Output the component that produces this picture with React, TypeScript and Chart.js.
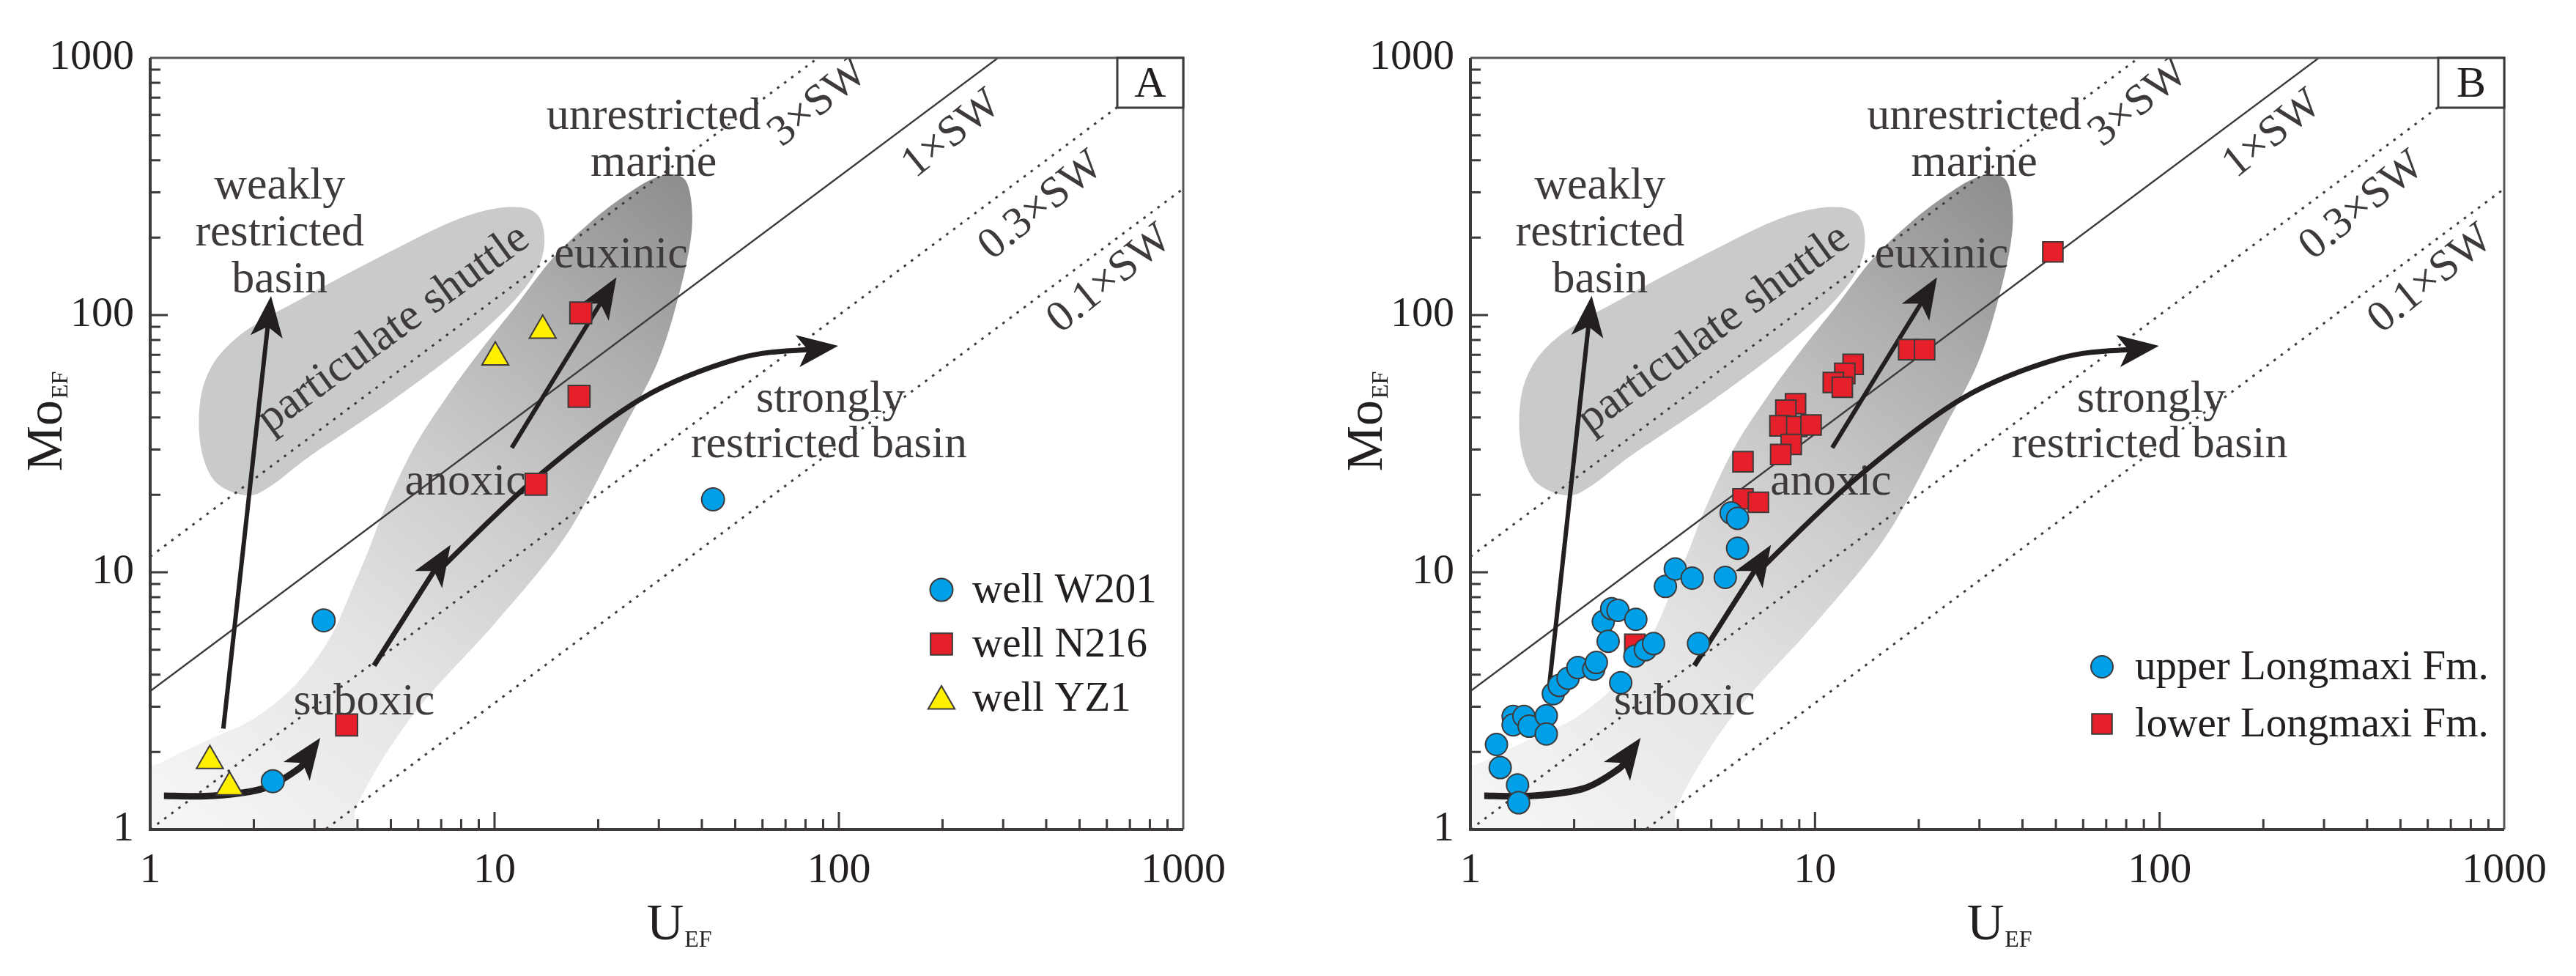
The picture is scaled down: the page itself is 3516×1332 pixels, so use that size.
import React, { useEffect, useRef } from 'react';
import { Chart, registerables } from 'chart.js';

Chart.register(...registerables);

const FONT = '"Liberation Serif", "Times New Roman", serif';
const INK = '#231f20';
const LINE = '#3e3a39';
const BLUE = '#00a0e9';
const RED = '#e5202a';
const YELLOW = '#fff000';

// ---- axes ----
const axisMin = 1;
const axisMax = 1000;
const tickValues = [1, 10, 100, 1000];
const tickLabels = ['1', '10', '100', '1000'];

// ---- panel A data (U_EF, Mo_EF) ----
const seriesNamesA = ['well W201', 'well N216', 'well YZ1'];
const w201U = [43.1, 3.19, 2.27];
const w201Mo = [19.2, 6.5, 1.54];
const n216U = [17.8, 17.6, 13.2, 3.72];
const n216Mo = [102, 48.3, 22.0, 2.55];
const yz1U = [13.8, 10.05, 1.49, 1.7];
const yz1Mo = [87.2, 68.6, 1.85, 1.46];

// ---- panel B data ----
const seriesNamesB = ['upper Longmaxi Fm.', 'lower Longmaxi Fm.'];
const upperU = [1.19, 1.22, 1.37, 1.38, 1.33, 1.33, 1.43, 1.48, 1.66, 1.66, 1.74, 1.81, 1.92, 2.05, 2.28, 2.32, 2.43, 2.51, 2.57, 2.68, 2.73, 3.02, 3.0, 3.22, 3.4, 3.68, 3.93, 4.4, 4.59, 5.49, 5.96, 5.71, 5.96];
const upperMo = [2.14, 1.74, 1.49, 1.27, 2.75, 2.55, 2.75, 2.52, 2.77, 2.35, 3.37, 3.63, 3.87, 4.26, 4.2, 4.46, 6.43, 5.39, 7.22, 7.11, 3.72, 6.56, 4.72, 5.0, 5.28, 8.81, 10.3, 9.49, 5.28, 9.55, 12.4, 17.0, 16.2];
const lowerU = [49.0, 18.7, 20.8, 12.9, 12.2, 11.3, 12.0, 8.78, 8.23, 7.91, 8.85, 9.74, 8.53, 7.95, 6.18, 6.18, 6.85, 3.0];
const lowerMo = [176, 73.4, 73.4, 64.3, 59.3, 54.7, 52.4, 45.2, 42.7, 37.1, 36.9, 37.4, 31.4, 28.7, 26.9, 19.3, 18.7, 5.25];

// ---- seawater Mo/U reference lines ----
const swRatios = [11.5, 3.45, 1.0, 0.31];
const swLabels = ['3×SW', '1×SW', '0.3×SW', '0.1×SW'];
const swDotted = [true, false, true, true];

// ---- annotation geometry, in decades [log10 U, log10 Mo] ----
type P = [number, number];
const shuttleBlob: P[] = [
  [0.279, 1.299], [0.184, 1.36], [0.143, 1.529], [0.16, 1.747], [0.255, 1.916], [0.47, 2.086],
  [0.709, 2.255], [0.9, 2.376], [1.043, 2.42], [1.126, 2.388], [1.143, 2.255], [1.091, 2.11],
  [0.947, 1.916], [0.709, 1.674], [0.47, 1.457], [0.351, 1.336],
];
const redoxBand: P[] = [
  [-0.15, -0.15], [-0.15, 0.24], [0.0, 0.248], [0.09, 0.3], [0.18, 0.355], [0.3, 0.43], [0.42, 0.56],
  [0.52, 0.74], [0.585, 0.93], [0.635, 1.088], [0.6785, 1.238], [0.764, 1.48], [0.862, 1.684],
  [0.959, 1.861], [1.057, 2.027], [1.167, 2.218], [1.277, 2.36], [1.374, 2.46], [1.46, 2.53],
  [1.53, 2.545], [1.565, 2.49], [1.572, 2.32], [1.533, 2.066], [1.472, 1.811], [1.374, 1.556],
  [1.277, 1.302], [1.179, 1.088], [1.0, 0.8], [0.76, 0.44], [0.6, 0.09], [0.56, -0.15],
];
const commonArrows = [
  { pts: [[0.04, 0.131], [0.184, 0.131], [0.33, 0.16], [0.43, 0.235]] as P[], tip: [0.494, 0.356] as P, w: 9 },
  { pts: [[0.65, 0.637]] as P[], tip: [0.872, 1.106] as P, w: 7 },
  { pts: [[0.84, 1.009], [1.115, 1.36], [1.425, 1.674], [1.711, 1.832]] as P[], tip: [1.998, 1.88] as P, w: 7 },
  { pts: [[1.05, 1.484]] as P[], tip: [1.354, 2.147] as P, w: 6 },
];
const commonLabels = [
  { text: 'weakly', at: [0.376, 2.498] as P },
  { text: 'restricted', at: [0.376, 2.316] as P },
  { text: 'basin', at: [0.376, 2.134] as P },
  { text: 'unrestricted', at: [1.462, 2.769] as P },
  { text: 'marine', at: [1.462, 2.589] as P },
  { text: 'particulate shuttle', at: [0.707, 1.945] as P, rot: -36 },
  { text: 'euxinic', at: [1.367, 2.232] as P },
  { text: 'suboxic', at: [0.621, 0.494] as P },
  { text: 'strongly', at: [1.976, 1.669] as P },
  { text: 'restricted basin', at: [1.971, 1.493] as P },
];
const swLabelPos: P[] = [[1.94, 2.824], [2.328, 2.703], [2.588, 2.424], [2.787, 2.139]];

const panelA = {
  letter: 'A',
  yAxisWidth: 205,
  rightPad: 143,
  series: [
    { label: seriesNamesA[0], U: w201U, Mo: w201Mo, style: 'circle', color: BLUE, radius: 15.5 },
    { label: seriesNamesA[1], U: n216U, Mo: n216Mo, style: 'rect', color: RED, radius: 21 },
    { label: seriesNamesA[2], U: yz1U, Mo: yz1Mo, style: 'triangle', color: YELLOW, radius: 21 },
  ],
  legend: { x: 1080, y: 726, dy: 74, textDx: 42 },
  weaklyStart: [0.2124, 0.392] as P,
  weaklyTip: [0.351, 2.074] as P,
  anoxicAt: [0.915, 1.348] as P,
};
const panelB = {
  letter: 'B',
  yAxisWidth: 249,
  rightPad: 98,
  series: [
    { label: seriesNamesB[0], U: upperU, Mo: upperMo, style: 'circle', color: BLUE, radius: 15 },
    { label: seriesNamesB[1], U: lowerU, Mo: lowerMo, style: 'rect', color: RED, radius: 19.5 },
  ],
  legend: { x: 862, y: 831, dy: 78, textDx: 45 },
  weaklyStart: [0.229, 0.562] as P,
  weaklyTip: [0.352, 2.075] as P,
  anoxicAt: [1.046, 1.349] as P,
};

function smoothPath(ctx: CanvasRenderingContext2D, pts: { x: number; y: number }[], closed: boolean) {
  const n = pts.length;
  ctx.moveTo(pts[0].x, pts[0].y);
  const get = (i: number) => {
    if (closed) return pts[(i + n) % n];
    return pts[Math.max(0, Math.min(n - 1, i))];
  };
  const last = closed ? n : n - 1;
  for (let i = 0; i < last; i++) {
    const p0 = get(i - 1), p1 = get(i), p2 = get(i + 1), p3 = get(i + 2);
    ctx.bezierCurveTo(
      p1.x + (p2.x - p0.x) / 6, p1.y + (p2.y - p0.y) / 6,
      p2.x - (p3.x - p1.x) / 6, p2.y - (p3.y - p1.y) / 6,
      p2.x, p2.y,
    );
  }
  if (closed) ctx.closePath();
}

function drawMarker(ctx: CanvasRenderingContext2D, style: string, x: number, y: number, r: number, fill: string) {
  ctx.save();
  ctx.fillStyle = fill;
  ctx.strokeStyle = LINE;
  ctx.lineWidth = 2;
  ctx.beginPath();
  if (style === 'circle') {
    ctx.arc(x, y, r, 0, Math.PI * 2);
  } else if (style === 'rect') {
    const s = r * Math.SQRT1_2;
    ctx.rect(x - s, y - s, 2 * s, 2 * s);
  } else {
    let a = 0;
    for (let k = 0; k < 3; k++) {
      const px = x + Math.sin(a) * r, py = y - Math.cos(a) * r;
      if (k === 0) ctx.moveTo(px, py); else ctx.lineTo(px, py);
      a += (2 * Math.PI) / 3;
    }
    ctx.closePath();
  }
  ctx.fill();
  ctx.stroke();
  ctx.restore();
}

function makeOverlay(cfg: any) {
  const map = (chart: any) => {
    const xs = chart.scales.x, ys = chart.scales.y;
    return (p: P) => ({ x: xs.getPixelForValue(Math.pow(10, p[0])), y: ys.getPixelForValue(Math.pow(10, p[1])) });
  };
  const clipArea = (chart: any) => {
    const a = chart.chartArea;
    chart.ctx.beginPath();
    chart.ctx.rect(a.left, a.top, a.right - a.left, a.bottom - a.top);
    chart.ctx.clip();
  };
  const drawArrow = (ctx: CanvasRenderingContext2D, m: any, pts: P[], tipP: P, w: number) => {
    const px = pts.map(m);
    const tip = m(tipP);
    const from = px[px.length - 1];
    const ang = Math.atan2(tip.y - from.y, tip.x - from.x);
    const len = 56, half = 22, notch = 14;
    const c = Math.cos(ang), s = Math.sin(ang);
    const base = { x: tip.x - (len - notch - 2) * c, y: tip.y - (len - notch - 2) * s };
    ctx.strokeStyle = INK;
    ctx.fillStyle = INK;
    ctx.lineWidth = w;
    ctx.lineCap = 'butt';
    ctx.beginPath();
    smoothPath(ctx, [...px, base], false);
    ctx.stroke();
    const head: P[] = [[0, 0], [-len, half], [-len + notch, 0], [-len, -half]];
    ctx.beginPath();
    head.forEach(([a, b], i) => {
      const x = tip.x + a * c - b * s;
      const y = tip.y + a * s + b * c;
      if (i === 0) ctx.moveTo(x, y); else ctx.lineTo(x, y);
    });
    ctx.closePath();
    ctx.fill();
  };
  const drawText = (ctx: CanvasRenderingContext2D, text: string, p: { x: number; y: number }, size: number, rot = 0) => {
    ctx.save();
    ctx.translate(p.x, p.y);
    ctx.rotate((rot * Math.PI) / 180);
    ctx.font = `${size}px ${FONT}`;
    ctx.fillStyle = LINE;
    ctx.textAlign = 'center';
    ctx.textBaseline = 'middle';
    ctx.fillText(text, 0, 0);
    ctx.restore();
  };
  return {
    id: 'overlay' + cfg.letter,
    beforeDatasetsDraw(chart: any) {
      const ctx = chart.ctx as CanvasRenderingContext2D;
      const m = map(chart);
      ctx.save();
      clipArea(chart);
      const g0 = m([0.1, 0.05]), g1 = m([1.55, 2.55]);
      const g = ctx.createLinearGradient(g0.x, g0.y, g1.x, g1.y);
      g.addColorStop(0, '#f5f5f5');
      g.addColorStop(0.3, '#e4e4e4');
      g.addColorStop(0.55, '#cbcbcb');
      g.addColorStop(0.78, '#adadad');
      g.addColorStop(1, '#8d8d8d');
      ctx.fillStyle = g;
      ctx.beginPath();
      smoothPath(ctx, redoxBand.map(m), true);
      ctx.fill();
      ctx.fillStyle = '#c9caca';
      ctx.beginPath();
      smoothPath(ctx, shuttleBlob.map(m), true);
      ctx.fill();
      ctx.restore();
    },
    beforeDatasetDraw(chart: any, args: any) {
      if (args.index !== cfg.series.length - 1) return;
      const ctx = chart.ctx as CanvasRenderingContext2D;
      const m = map(chart);
      ctx.save();
      clipArea(chart);
      commonLabels.forEach((l) => drawText(ctx, l.text, m(l.at), 62, l.rot || 0));
      drawText(ctx, 'anoxic', m(cfg.anoxicAt), 62);
      swLabels.forEach((t, i) => drawText(ctx, t, m(swLabelPos[i]), 60, -39));
      drawArrow(ctx, m, [cfg.weaklyStart], cfg.weaklyTip, 6);
      commonArrows.forEach((a) => drawArrow(ctx, m, a.pts, a.tip, a.w));
      ctx.restore();
    },
    afterDraw(chart: any) {
      const ctx = chart.ctx as CanvasRenderingContext2D;
      const { left, right, top, bottom } = chart.chartArea;
      const xs = chart.scales.x, ys = chart.scales.y;
      ctx.save();
      // ticks (inside)
      ctx.strokeStyle = LINE;
      ctx.lineWidth = 3;
      for (let k = 0; k < 3; k++) {
        for (let mm = 1; mm <= 9; mm++) {
          const v = mm * Math.pow(10, k);
          if (v === 1) continue;
          const len = mm === 1 ? 24 : 14;
          const x = xs.getPixelForValue(v);
          const y = ys.getPixelForValue(v);
          ctx.beginPath();
          ctx.moveTo(x, bottom);
          ctx.lineTo(x, bottom - len);
          ctx.moveTo(left, y);
          ctx.lineTo(left + len, y);
          ctx.stroke();
        }
      }
      // frame
      ctx.strokeStyle = '#595757';
      ctx.lineWidth = 3;
      ctx.beginPath();
      ctx.moveTo(left, top);
      ctx.lineTo(right, top);
      ctx.lineTo(right, bottom);
      ctx.stroke();
      ctx.strokeStyle = LINE;
      ctx.lineWidth = 4;
      ctx.beginPath();
      ctx.moveTo(left, top);
      ctx.lineTo(left, bottom);
      ctx.lineTo(right, bottom);
      ctx.stroke();
      // panel letter
      ctx.fillStyle = '#fff';
      ctx.fillRect(right - 90, top, 90, 68);
      ctx.strokeStyle = LINE;
      ctx.lineWidth = 3;
      ctx.strokeRect(right - 90, top, 90, 68);
      ctx.fillStyle = INK;
      ctx.font = `60px ${FONT}`;
      ctx.textAlign = 'center';
      ctx.textBaseline = 'middle';
      ctx.fillText(cfg.letter, right - 45, top + 37);
      // legend
      ctx.textAlign = 'left';
      ctx.font = `57px ${FONT}`;
      cfg.series.forEach((s: any, i: number) => {
        const mx = left + cfg.legend.x, my = top + cfg.legend.y + i * cfg.legend.dy;
        drawMarker(ctx, s.style, mx, my + (s.style === 'triangle' ? 4 : 0), s.radius, s.color);
        ctx.fillStyle = INK;
        ctx.textBaseline = 'middle';
        ctx.fillText(s.label, mx + cfg.legend.textDx, my + 2);
      });
      // x title U_EF
      ctx.textBaseline = 'alphabetic';
      ctx.font = `70px ${FONT}`;
      const wU = ctx.measureText('U').width;
      const ux = left + 703 - wU / 2;
      ctx.fillText('U', ux, 1282);
      ctx.font = `32px ${FONT}`;
      ctx.fillText('EF', ux + wU + 1, 1292);
      // y title Mo_EF
      ctx.font = `70px ${FONT}`;
      const wM = ctx.measureText('Mo').width;
      ctx.font = `32px ${FONT}`;
      const wE = ctx.measureText('EF').width;
      ctx.translate(left - 121, 575);
      ctx.rotate(-Math.PI / 2);
      const sx = -(wM + wE + 2) / 2;
      ctx.font = `70px ${FONT}`;
      ctx.fillText('Mo', sx, 0);
      ctx.font = `32px ${FONT}`;
      ctx.fillText('EF', sx + wM + 2, 8);
      ctx.restore();
    },
  };
}

function buildConfig(cfg: any): any {
  const scatter = cfg.series.map((s: any) => ({
    label: s.label,
    data: s.U.map((u: number, i: number) => ({ x: u, y: s.Mo[i] })),
    pointStyle: s.style,
    pointRadius: s.radius,
    pointBackgroundColor: s.color,
    pointBorderColor: LINE,
    pointBorderWidth: 2,
    showLine: false,
  }));
  const lines = swRatios.map((r, i) => ({
    label: swLabels[i],
    data: [{ x: axisMin, y: axisMin * r }, { x: axisMax, y: axisMax * r }],
    showLine: true,
    pointRadius: 0,
    borderColor: LINE,
    borderWidth: swDotted[i] ? 3 : 2.4,
    borderDash: swDotted[i] ? [3.5, 8.5] : [],
    fill: false,
  }));
  const tickFont = { family: FONT, size: 58 };
  return {
    type: 'scatter',
    data: { datasets: [...scatter, ...lines] },
    plugins: [makeOverlay(cfg)],
    options: {
      responsive: false,
      animation: false,
      devicePixelRatio: 1,
      events: [],
      layout: { padding: { left: 0, top: 79, right: cfg.rightPad, bottom: 0 } },
      plugins: { legend: { display: false }, tooltip: { enabled: false } },
      scales: {
        x: {
          type: 'logarithmic',
          position: 'bottom',
          min: axisMin,
          max: axisMax,
          afterBuildTicks: (s: any) => { s.ticks = tickValues.map((v) => ({ value: v })); },
          afterFit: (s: any) => { s.height = 200; },
          grid: { display: false, drawTicks: false },
          border: { display: false },
          ticks: {
            autoSkip: false, maxRotation: 0, padding: 22, color: INK, font: tickFont,
            callback: (v: any) => tickLabels[tickValues.indexOf(Number(v))] ?? '',
          },
        },
        y: {
          type: 'logarithmic',
          position: 'left',
          min: axisMin,
          max: axisMax,
          afterBuildTicks: (s: any) => { s.ticks = tickValues.map((v) => ({ value: v })); },
          afterFit: (s: any) => { s.width = cfg.yAxisWidth; },
          grid: { display: false, drawTicks: false },
          border: { display: false },
          ticks: {
            autoSkip: false, padding: 22, color: INK, font: tickFont,
            callback: (v: any) => tickLabels[tickValues.indexOf(Number(v))] ?? '',
          },
        },
      },
    },
  };
}

function Panel({ cfg, left }: { cfg: any; left: number }) {
  const ref = useRef<HTMLCanvasElement>(null);
  useEffect(() => {
    const chart = new Chart(ref.current as HTMLCanvasElement, buildConfig(cfg));
    return () => chart.destroy();
  }, [cfg]);
  return (
    <canvas
      ref={ref}
      width={1758}
      height={1332}
      style={{ position: 'absolute', left, top: 0, width: 1758, height: 1332, display: 'block' }}
    />
  );
}

export default function App() {
  return (
    <div style={{ position: 'absolute', left: 0, top: 0, width: 3516, height: 1332, background: '#fff', overflow: 'hidden' }}>
      <Panel cfg={panelA} left={0} />
      <Panel cfg={panelB} left={1758} />
    </div>
  );
}
